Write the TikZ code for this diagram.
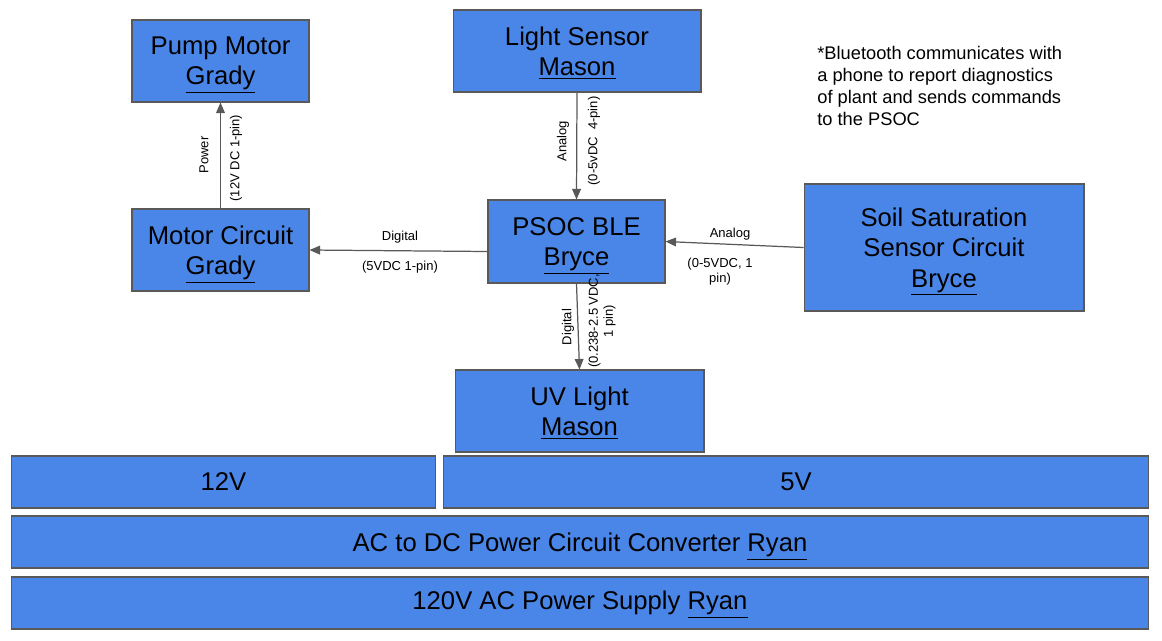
\documentclass[tikz,border=0pt]{standalone}
\usepackage{fontspec}
\setmainfont{Liberation Sans}
\usetikzlibrary{arrows.meta}
\definecolor{boxblue}{HTML}{4A86E8}
\definecolor{edgegray}{HTML}{595959}
\newcommand{\uname}[1]{\smash{\underline{#1}}}
\tikzset{
	block/.style={draw=edgegray, fill=boxblue, line width=0.6pt, inner sep=0pt, align=center,
		font=\fontsize{14.6}{17.2}\selectfont},
	conn/.style={draw=edgegray, line width=0.7pt, -{Triangle[length=6pt,width=5pt]}},
	lbl/.style={inner sep=0pt, align=center, font=\fontsize{7.4}{8.6}\selectfont}
}
\begin{document}
\begin{tikzpicture}[x=0.02cm, y=-0.02cm]
	\useasboundingbox (0,0) rectangle (1162,640);

	% sensors, actuators and the controller
	\node[block, minimum width=3.54cm, minimum height=1.64cm] (pump) at (220.5,61){Pump Motor\\\uname{Grady}};
	\node[block, minimum width=4.96cm, minimum height=1.64cm] (light) at (577,51){Light Sensor\\\uname{Mason}};
	\node[block, minimum width=3.54cm, minimum height=1.64cm] (motor) at (220.5,250){Motor Circuit\\\uname{Grady}};
	\node[block, minimum width=3.54cm, minimum height=1.66cm] (psoc) at (576.5,241.5){PSOC BLE\\\uname{Bryce}};
	\node[block, minimum width=5.6cm, minimum height=2.54cm] (soil) at (944,247.5){Soil Saturation\\Sensor Circuit\\\uname{Bryce}};
	\node[block, minimum width=4.98cm, minimum height=1.64cm] (uv) at (579.5,411){UV Light\\\uname{Mason}};

	% power rails
	\node[block, minimum width=8.5cm, minimum height=1.04cm] (rail12) at (223.5,482){12V};
	\node[block, minimum width=14.12cm, minimum height=1.04cm] (rail5) at (796,482){5V};
	\node[block, minimum width=22.76cm, minimum height=1.04cm] (acdc) at (580,542){AC to DC Power Circuit Converter \uname{Ryan}};
	\node[block, minimum width=22.76cm, minimum height=1.04cm] (supply) at (580,603){120V AC Power Supply \uname{Ryan}};

	% connections
	\draw[conn] (motor.north) to (pump.south);
	\draw[conn] (light.south) to (psoc.north);
	\draw[conn] ([yshift=-0.2cm]psoc.west) to (motor.east);
	\draw[conn] (soil.west) to (psoc.east);
	\draw[conn] (psoc.south) to (uv.north);

	\node[lbl, rotate=90] (powerlbl) at (204,155){Power};
	\node[lbl, rotate=90] (powerpin) at (236,158){(12V DC 1-pin)};
	\node[lbl, rotate=90] (lightlbl) at (563,141){Analog};
	\node[lbl, rotate=90] (lightpin) at (594,141){(0-5vDC\ \ 4-pin)};
	\node[lbl] (motorlbl) at (400,237){Digital};
	\node[lbl] (motorpin) at (400,267){(5VDC 1-pin)};
	\node[lbl] (soillbl) at (730,234){Analog};
	\node[lbl] (soilpin) at (720,272){(0-5VDC, 1\\pin)};
	\node[lbl, rotate=90] (uvlbl) at (568,327){Digital};
	\node[lbl, rotate=90] (uvpin) at (602,321){(0.238-2.5 VDC,\\1 pin)};

	% note
	\node[anchor=north west, inner sep=0pt, align=left, font=\fontsize{10.4}{12.5}\selectfont] (note) at (817,46){*Bluetooth communicates with\\a phone to report diagnostics\\of plant and sends commands\\to the PSOC};
\end{tikzpicture}
\end{document}
